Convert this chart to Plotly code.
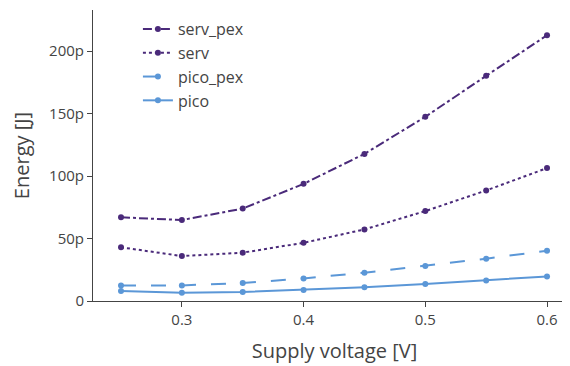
import plotly.graph_objects as go

voltage = [0.25, 0.3, 0.35, 0.4, 0.45, 0.5, 0.55, 0.6]
serv_pex = [67.0, 64.8, 74.0, 93.8, 117.8, 147.5, 180.3, 212.8]
serv = [43.0, 36.0, 38.7, 46.6, 57.3, 72.0, 88.5, 106.4]
pico_pex = [12.5, 12.5, 14.4, 18.1, 22.7, 28.0, 33.9, 40.3]
pico = [8.0, 6.7, 7.2, 8.8, 11.0, 13.6, 16.5, 19.7]

purple = "#4a2a7a"
blue = "#5b97d7"

series = [
    ("serv_pex", serv_pex, purple, "dashdot"),
    ("serv", serv, purple, "dot"),
    ("pico_pex", pico_pex, blue, "longdash"),
    ("pico", pico, blue, "solid"),
]

fig = go.Figure()
for name, vals, color, dash in series:
    fig.add_trace(go.Scatter(
        x=voltage, y=[v * 1e-12 for v in vals], name=name,
        mode="lines+markers",
        line=dict(color=color, width=2, dash=dash),
        marker=dict(color=color, size=6),
    ))

fig.update_layout(
    width=568, height=358,
    margin=dict(l=85, r=0, t=2, b=65, autoexpand=False),
    paper_bgcolor="white", plot_bgcolor="white",
    font=dict(family="Open Sans", size=15, color="#444"),
    showlegend=True,
    legend=dict(x=0.093, y=0.993, xanchor="left", yanchor="top",
                font=dict(size=16, color="#444"), bgcolor="rgba(0,0,0,0)"),
    xaxis=dict(
        title=dict(text="Supply voltage [V]", font=dict(size=20, color="#444")),
        range=[0.227, 0.6238],
        tickvals=[0.3, 0.4, 0.5, 0.6], ticktext=["0.3", "0.4", "0.5", "0.6"],
        showline=True, linecolor="#444", linewidth=1,
        ticks="outside", ticklen=5, tickcolor="#444",
        showgrid=False, zeroline=False, automargin=False,
    ),
    yaxis=dict(
        title=dict(text="Energy [J]", font=dict(size=20, color="#444")),
        range=[0, 233e-12],
        tick0=0, dtick=50e-12, tickformat="~s",
        showline=True, linecolor="#444", linewidth=1,
        ticks="outside", ticklen=5, tickcolor="#444",
        showgrid=False, zeroline=False, automargin=False,
    ),
)

fig.write_html("out.html")
